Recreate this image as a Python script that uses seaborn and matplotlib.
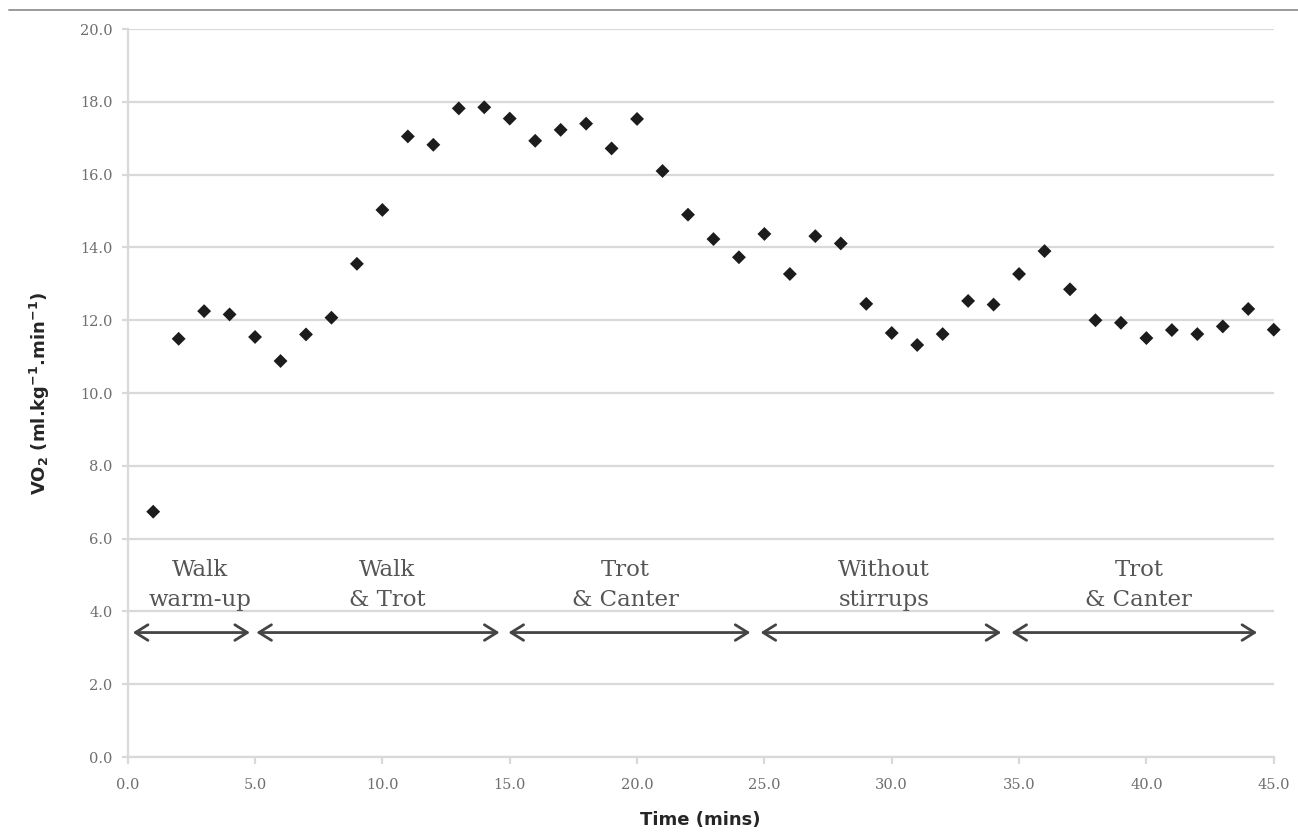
"""VO2 over a 45 minute riding session, scatter with phase annotations."""
import matplotlib

matplotlib.use("Agg")
import matplotlib.pyplot as plt
from matplotlib.lines import Line2D
import pandas as pd
import seaborn as sns

# values
TIME_MIN = list(range(1, 46))
VO2 = [
    6.74, 11.49, 12.25, 12.16, 11.54, 10.88, 11.61, 12.07, 13.55, 15.03,
    17.05, 16.82, 17.82, 17.85, 17.54, 16.93, 17.23, 17.40, 16.72, 17.53,
    16.10, 14.90, 14.23, 13.73, 14.37, 13.27, 14.31, 14.11, 12.45, 11.65,
    11.32, 11.62, 12.53, 12.43, 13.27, 13.90, 12.85, 12.00, 11.93, 11.51,
    11.73, 11.62, 11.83, 12.31, 11.74,
]

PHASE_LABELS = ["Walk\nwarm-up", "Walk\n& Trot", "Trot\n& Canter",
                "Without\nstirrups", "Trot\n& Canter"]
PHASE_LABEL_X = [2.85, 10.2, 19.55, 29.7, 39.7]
ARROW_START = [0.2, 5.05, 14.95, 24.85, 34.7]
ARROW_END = [4.8, 14.6, 24.45, 34.3, 44.35]
ARROW_Y = 3.42
LABEL_Y = 4.72

X_TICKS = [0, 5, 10, 15, 20, 25, 30, 35, 40, 45]
Y_TICKS = [0, 2, 4, 6, 8, 10, 12, 14, 16, 18, 20]

GRID = "#d9d9d9"
TEXT_GREY = "#6e6e6e"


def main() -> None:
    sns.set_style("white")
    df = pd.DataFrame({"time": TIME_MIN, "vo2": VO2})

    fig = plt.figure(figsize=(12.98, 8.32), dpi=100)
    ax = fig.add_axes([0.0984, 0.0901, 0.8829, 0.875])

    ax.set_xlim(0, 45)
    ax.set_ylim(0, 20)
    ax.set_yticks(Y_TICKS)
    ax.set_xticks(X_TICKS)
    ax.set_yticklabels([f"{v:.1f}" for v in Y_TICKS])
    ax.set_xticklabels([f"{v:.1f}" for v in X_TICKS])

    ax.yaxis.grid(True, color=GRID, linewidth=1.6)
    ax.set_axisbelow(True)
    for side in ["top", "right"]:
        ax.spines[side].set_visible(False)
    for side in ["left", "bottom"]:
        ax.spines[side].set_color(GRID)
        ax.spines[side].set_linewidth(1.6)

    ax.tick_params(axis="y", length=4, width=1.6, color=GRID, pad=7,
                   labelsize=10.5, labelcolor=TEXT_GREY, left=True)
    ax.tick_params(axis="x", length=5, width=1.6, color=GRID, pad=10,
                   labelsize=10.5, labelcolor=TEXT_GREY, bottom=True)
    for lbl in ax.get_xticklabels() + ax.get_yticklabels():
        lbl.set_family("DejaVu Serif")

    sns.scatterplot(data=df, x="time", y="vo2", marker="D", s=50,
                    color="#1c1c1c", edgecolor="none", ax=ax, clip_on=False,
                    zorder=3)

    for x0, x1 in zip(ARROW_START, ARROW_END):
        ax.annotate("", xy=(x1, ARROW_Y), xytext=(x0, ARROW_Y),
                    arrowprops=dict(arrowstyle="<->,head_length=0.45,head_width=0.28",
                                    mutation_scale=20, color="#444444",
                                    lw=2.0, shrinkA=0, shrinkB=0))
    for lab, x in zip(PHASE_LABELS, PHASE_LABEL_X):
        ax.text(x, LABEL_Y, lab, ha="center", va="center", fontsize=16.5,
                family="DejaVu Serif", color="#555555", linespacing=1.45)

    ax.set_xlabel("Time (mins)", fontsize=13, fontweight="bold",
                  family="DejaVu Sans", labelpad=14)
    ax.set_ylabel(r"VO$_\mathregular{2}$ (ml.kg$^\mathregular{-1}$.min$^\mathregular{-1}$)",
                  fontsize=13, fontweight="bold", family="DejaVu Sans",
                  labelpad=20)

    # thin border fragment along the top of the original image
    fig.add_artist(Line2D([0.007, 1.0], [0.988, 0.988], color="#9a9a9a",
                          linewidth=1.4, transform=fig.transFigure))

    fig.savefig("out.png", dpi=100)
    plt.close(fig)


if __name__ == "__main__":
    main()
